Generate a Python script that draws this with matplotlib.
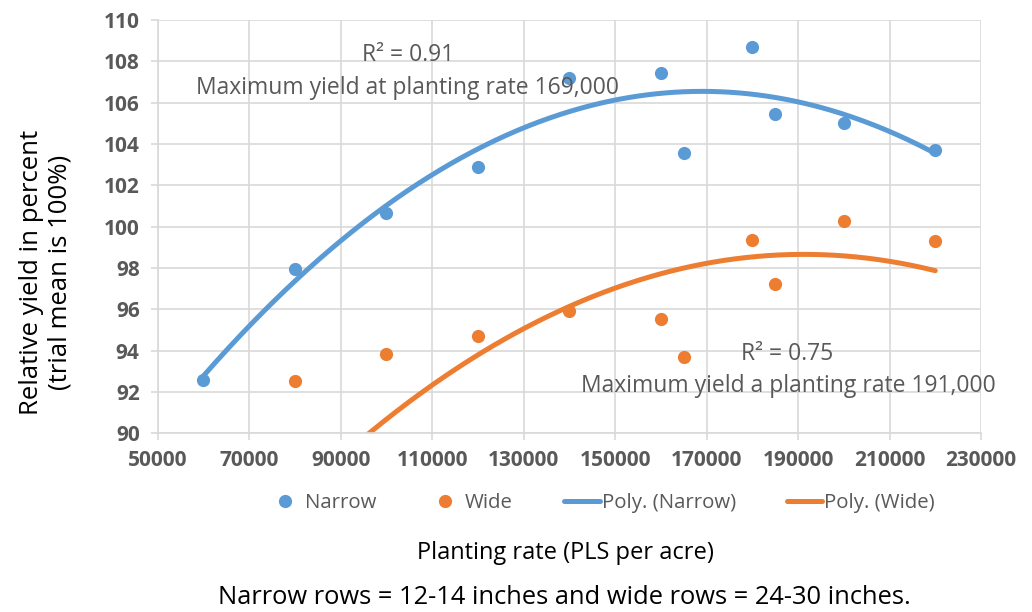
import numpy as np
import matplotlib
matplotlib.use("Agg")
import matplotlib.pyplot as plt
from matplotlib.lines import Line2D

plt.rcParams['font.family'] = ['Open Sans', 'DejaVu Sans']

narrow_x = [60000, 80000, 100000, 120000, 140000, 160000, 165000, 180000, 185000, 200000, 220000]
narrow_y = [92.6, 97.93, 100.67, 102.87, 107.2, 107.42, 103.58, 108.70, 105.43, 105.03, 103.69]
# the 60000 wide value lies below the visible axis range (hidden, but part of the trend fit)
wide_x = [60000, 80000, 100000, 120000, 140000, 160000, 165000, 180000, 185000, 200000, 220000]
wide_y = [76.5, 92.52, 93.82, 94.71, 95.92, 95.55, 93.71, 99.37, 97.22, 100.27, 99.30]

x_ticks = list(range(50000, 230001, 20000))
y_ticks = list(range(90, 111, 2))

blue = '#5B9BD5'
orange = '#ED7D31'
gray = '#595959'
grid = '#D9D9D9'

fig = plt.figure(figsize=(10.32, 6.12), dpi=100)
ax = fig.add_axes([0.1528, 0.292, 0.7978, 0.6753])

for xs, ys, c in [(narrow_x, narrow_y, blue), (wide_x, wide_y, orange)]:
    coef = np.polyfit(xs, ys, 2)
    xx = np.linspace(min(xs), max(xs), 400)
    ax.plot(xx, np.polyval(coef, xx), color=c, lw=3.6, solid_capstyle='round', zorder=2)
    ax.plot(xs, ys, 'o', color=c, ms=9.5, mew=0, zorder=3)

ax.set_xlim(50000, 230000)
ax.set_ylim(90, 110)
ax.set_xticks(x_ticks)
ax.set_yticks(y_ticks)
ax.set_xticklabels([str(v) for v in x_ticks])
ax.set_yticklabels([str(v) for v in y_ticks])
ax.grid(True, color=grid, lw=1.2, zorder=0)
ax.set_axisbelow(True)
for s in ['top', 'right']:
    ax.spines[s].set_visible(False)
for s in ['left', 'bottom']:
    ax.spines[s].set_color(grid)
    ax.spines[s].set_linewidth(1.2)
ax.tick_params(axis='both', colors=grid, length=5, width=1.2, direction='out')
for lab in ax.get_xticklabels() + ax.get_yticklabels():
    lab.set_color(gray)
    lab.set_fontweight('bold')
    lab.set_fontsize(15)
ax.tick_params(axis='x', pad=7)
ax.tick_params(axis='y', pad=8)

akw = dict(ha='center', va='center', fontsize=16.5, color=gray)
fig.text(408/1032, 1-55/612, 'R² = 0.91', **akw)
fig.text(408/1032, 1-88/612, 'Maximum yield at planting rate 169,000', **akw)
fig.text(787/1032, 1-354/612, 'R² = 0.75', **akw)
fig.text(788/1032, 1-386/612, 'Maximum yield a planting rate 191,000', **akw)

handles = [
    Line2D([], [], marker='o', color=blue, ls='none', ms=9.5, mew=0),
    Line2D([], [], marker='o', color=orange, ls='none', ms=9.5, mew=0),
    Line2D([], [], color=blue, lw=3.6, solid_capstyle='round'),
    Line2D([], [], color=orange, lw=3.6, solid_capstyle='round'),
]
labels = ['Narrow', 'Wide', 'Poly. (Narrow)', 'Poly. (Wide)']
leg = fig.legend(handles, labels, loc='center', bbox_to_anchor=(601/1032, 1-503/612), ncol=4,
                 frameon=False, fontsize=14.7, handlelength=1.75, handletextpad=0.1, columnspacing=2.5)
for t in leg.get_texts():
    t.set_color(gray)

fig.text(565/1032, 1-553/612, 'Planting rate (PLS per acre)', ha='center', va='center', fontsize=17, color='black')
fig.text(564/1032, 1-598/612, 'Narrow rows = 12-14 inches and wide rows = 24-30 inches.', ha='center', va='center',
         fontsize=18.4, color='black')
fig.text(46/1032, 1-272/612, 'Relative yield in percent\n(trial mean is 100%)', rotation=90, ha='center', va='center',
         fontsize=18.5, color='black', linespacing=1.2, multialignment='center')

fig.savefig('out.png', dpi=100)
